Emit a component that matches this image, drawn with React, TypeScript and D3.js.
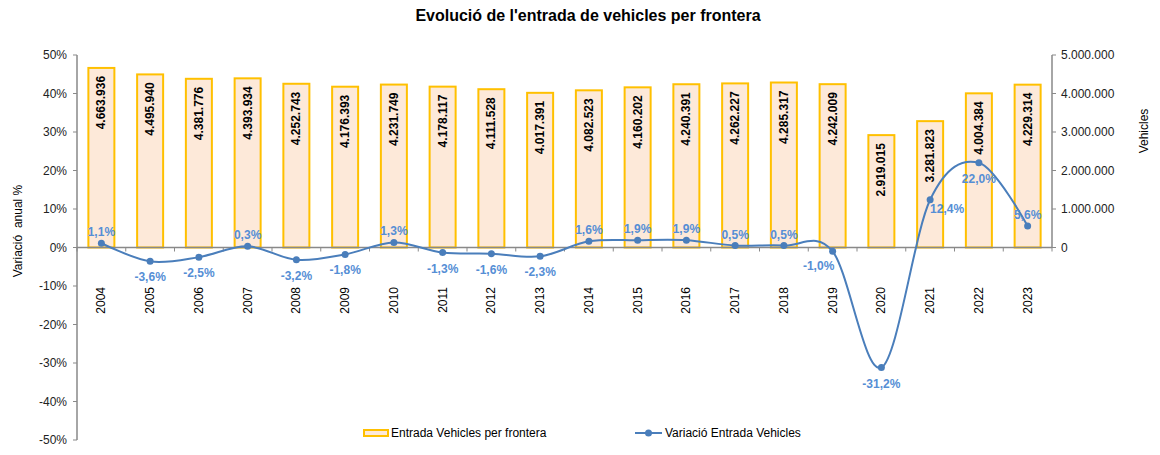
import React from 'react';
import * as d3 from 'd3';

const years = ['2004','2005','2006','2007','2008','2009','2010','2011','2012','2013','2014','2015','2016','2017','2018','2019','2020','2021','2022','2023'];
const vehicles = [4663936,4495940,4381776,4393934,4252743,4176393,4231749,4178117,4111528,4017391,4082523,4160202,4240391,4262227,4285317,4242009,2919015,3281823,4004384,4229314];
const variation = [1.1,-3.6,-2.5,0.3,-3.2,-1.8,1.3,-1.3,-1.6,-2.3,1.6,1.9,1.9,0.5,0.5,-1.0,-31.2,12.4,22.0,5.6];
const labelPos = ['t','b','b','t','b','b','t','b','b','b','t','t','t','t','t','bl','b','br','b','t'];
const leftTicks = [-50,-40,-30,-20,-10,0,10,20,30,40,50];
const rightTicks = [0,1000000,2000000,3000000,4000000,5000000];

const title = "Evolució de l'entrada de vehicles per frontera";
const leftTitle = 'Variació  anual %';
const rightTitle = 'Vehicles';
const barLegend = 'Entrada Vehicles per frontera';
const lineLegend = 'Variació Entrada Vehicles';

const W = 1160, H = 455;
const X0 = 77, X1 = 1052, YT = 55, YB = 440;

const loc = d3.formatLocale({ decimal: ',', thousands: '.', grouping: [3], currency: ['', ''], minus: '-' });
const fmtInt = loc.format(',d');
const fmtPct = loc.format('.1f');

const FONT = '"Liberation Sans", Arial, sans-serif';
const AXIS = '#898989';
const BAR_FILL = '#FDE9D9';
const BAR_STROKE = '#FFC000';
const LINE = '#4A7EBB';
const LABEL_BLUE = '#558ED5';

export default function App() {
  const x = d3.scaleBand<string>().domain(years).range([X0, X1]).padding(0);
  const yL = d3.scaleLinear().domain([-50, 50]).range([YB, YT]);
  const yR = d3.scaleLinear().domain([0, 5000000]).range([yL(0), YT]);
  const bw = 26;
  const cx = (y: string) => (x(y) as number) + x.bandwidth() / 2;
  const y0 = yL(0);

  const pts: [number, number][] = years.map((yr, i) => [cx(yr), yL(variation[i])]);
  const line = d3.line().curve(d3.curveCardinal)(pts) || '';

  const offsets: Record<string, [number, number]> = {
    t: [0, -11], b: [0, 16], bl: [-14, 15], br: [17, 9],
  };

  return (
    <svg width={W} height={H} style={{ position: 'absolute', left: 0, top: 0, background: '#fff' }} fontFamily={FONT}>
      <text x={588} y={21} textAnchor="middle" fontSize={16} fontWeight="bold" fill="#000">{title}</text>

      {/* bars */}
      {years.map((yr, i) => (
        <rect key={'b' + yr} x={cx(yr) - bw / 2} y={yR(vehicles[i])} width={bw} height={y0 - yR(vehicles[i])}
          fill={BAR_FILL} stroke={BAR_STROKE} strokeWidth={2} />
      ))}
      {years.map((yr, i) => (
        <text key={'bl' + yr} transform={`translate(${cx(yr)},${yR(vehicles[i]) + 8}) rotate(-90)`}
          textAnchor="end" dominantBaseline="central" fontSize={12} fontWeight="bold" fill="#000">
          {fmtInt(vehicles[i])}
        </text>
      ))}

      {/* axes */}
      <line x1={X0} x2={X0} y1={YT} y2={YB} stroke={AXIS} strokeWidth={1.5} />
      <line x1={X1} x2={X1} y1={YT} y2={y0} stroke={AXIS} strokeWidth={1.5} />
      <line x1={X0} x2={X1} y1={y0} y2={y0} stroke={AXIS} strokeWidth={1.5} />
      {leftTicks.map(t => (
        <g key={'lt' + t}>
          <line x1={X0 - 4} x2={X0} y1={yL(t)} y2={yL(t)} stroke={AXIS} />
          <text x={X0 - 10} y={yL(t)} textAnchor="end" dominantBaseline="central" fontSize={12} fill="#222">{t}%</text>
        </g>
      ))}
      {rightTicks.map(t => (
        <g key={'rt' + t}>
          <line x1={X1} x2={X1 + 4} y1={yR(t)} y2={yR(t)} stroke={AXIS} />
          <text x={X1 + 9} y={yR(t)} textAnchor="start" dominantBaseline="central" fontSize={12} fill="#222">{fmtInt(t)}</text>
        </g>
      ))}
      {years.map((yr) => (
        <line key={'xt' + yr} x1={x(yr) as number} x2={x(yr) as number} y1={y0} y2={y0 + 4} stroke={AXIS} />
      ))}
      <line x1={X1} x2={X1} y1={y0} y2={y0 + 4} stroke={AXIS} />
      {years.map(yr => (
        <text key={'xl' + yr} transform={`translate(${cx(yr)},${287}) rotate(-90)`} textAnchor="end"
          dominantBaseline="central" fontSize={12} fill="#000">{yr}</text>
      ))}

      <text transform={`translate(18,${231}) rotate(-90)`} textAnchor="middle" dominantBaseline="central" fontSize={12} fill="#000" style={{ whiteSpace: 'pre' }}>{leftTitle}</text>
      <text transform={`translate(1144,${131}) rotate(-90)`} textAnchor="middle" dominantBaseline="central" fontSize={12} fill="#000">{rightTitle}</text>

      {/* line */}
      <path d={line} fill="none" stroke={LINE} strokeWidth={2} />
      {pts.map((p, i) => (
        <circle key={'c' + i} cx={p[0]} cy={p[1]} r={3.5} fill={LINE} />
      ))}
      {pts.map((p, i) => {
        const o = offsets[labelPos[i]];
        return (
          <text key={'vl' + i} x={p[0] + o[0]} y={p[1] + o[1]} textAnchor="middle" dominantBaseline="central"
            fontSize={12} fontWeight="bold" fill={LABEL_BLUE}>{fmtPct(variation[i])}%</text>
        );
      })}

      {/* legend */}
      <rect x={364} y={430} width={24} height={6} fill={BAR_FILL} stroke={BAR_STROKE} strokeWidth={2} />
      <text x={391} y={433} dominantBaseline="central" fontSize={12} fill="#000">{barLegend}</text>
      <line x1={635} x2={662} y1={433} y2={433} stroke={LINE} strokeWidth={2} />
      <circle cx={648.5} cy={433} r={3.5} fill={LINE} />
      <text x={665} y={433} dominantBaseline="central" fontSize={12} fill="#000">{lineLegend}</text>
    </svg>
  );
}
